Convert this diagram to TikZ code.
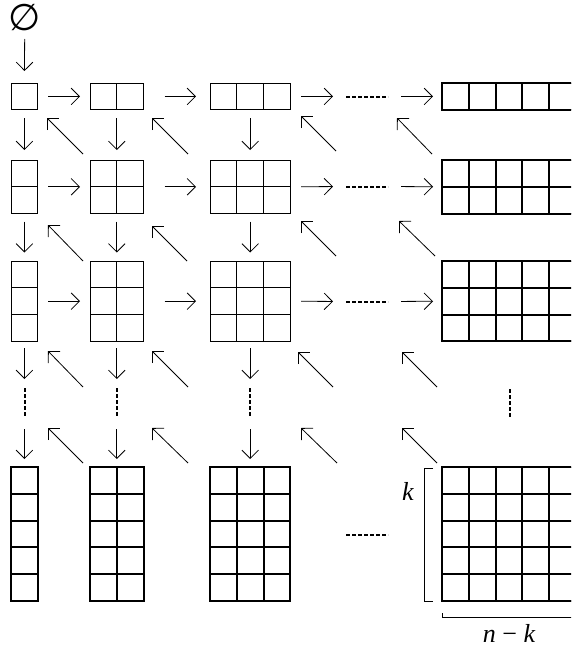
\documentclass[tikz,border=0pt]{standalone}
\usepackage{fontspec}
\newfontfamily\dejavu{DejaVu Sans}
\newfontfamily\tms{Liberation Serif}
\usetikzlibrary{arrows.meta}
\tikzset{
  cellbox/.style n args={3}{draw, rectangle, line width=#3, inner sep=0pt, outer sep=0pt,
    anchor=north west, minimum width=#1*26.8pt, minimum height=#2*26.8pt,
    path picture={
      \foreach \i in {0,...,#1}{\draw[line width=#3]
        ([xshift=\i*26.8pt]path picture bounding box.north west) --
        ([xshift=\i*26.8pt]path picture bounding box.south west);}
      \foreach \j in {0,...,#2}{\draw[line width=#3]
        ([yshift=-\j*26.8pt]path picture bounding box.north west) --
        ([yshift=-\j*26.8pt]path picture bounding box.north east);}
    }},
  thinbox/.style n args={2}{cellbox={#1}{#2}{0.9pt}},
  thickbox/.style n args={2}{cellbox={#1}{#2}{2.1pt}},
  arr/.style={line width=0.8pt, -{Straight Barb[length=8.3pt,width=16.6pt,line width=0.8pt]}},
  hdots/.style={line width=2pt, dash pattern=on 4pt off 2pt},
  vdots/.style={line width=2pt, dash pattern=on 4pt off 2pt},
  brk/.style={line width=0.8pt},
  lbl/.style={inner sep=0pt, font=\tms\fontsize{26}{30}\selectfont}
}
\begin{document}
\begin{tikzpicture}[x=1pt,y=-1pt]
\useasboundingbox (0,0) rectangle (571,648);
\clip (0,0) rectangle (571,648);
% empty set
\node[inner sep=0pt, font=\dejavu\fontsize{37}{37}\selectfont] (empty) at (24.8,18) {∅};
% boxes
\node[thinbox={1}{1}] (b11) at (11,83) {};
\node[thinbox={2}{1}] (b12) at (90,83) {};
\node[thinbox={3}{1}] (b13) at (210,83) {};
\node[thickbox={5}{1}] (b14) at (442,83) {};
\node[thinbox={1}{2}] (b21) at (11,160) {};
\node[thinbox={2}{2}] (b22) at (90,160) {};
\node[thinbox={3}{2}] (b23) at (210,160) {};
\node[thickbox={5}{2}] (b24) at (442,160) {};
\node[thinbox={1}{3}] (b31) at (11,261) {};
\node[thinbox={2}{3}] (b32) at (90,261) {};
\node[thinbox={3}{3}] (b33) at (210,261) {};
\node[thickbox={5}{3}] (b34) at (442,261) {};
\node[thickbox={1}{5}] (b51) at (11,467) {};
\node[thickbox={2}{5}] (b52) at (90,467) {};
\node[thickbox={3}{5}] (b53) at (210,467) {};
\node[thickbox={5}{5}] (b54) at (442,467) {};
% empty set arrow
\draw[arr, shorten <=21pt, shorten >=12pt] (empty.center) -- (b11.north);
% horizontal arrows and dots
\foreach \r/\y in {1/96.5, 2/186.5, 3/301.5}{
  \coordinate (hd\r a) at (346,\y);
  \coordinate (hd\r b) at (388,\y);
  \draw[arr, shorten <=10.2pt, shorten >=10pt] (b\r1.east) -- (b\r2.west);
  \draw[arr, shorten <=21pt, shorten >=14pt] (b\r2.east) -- (b\r3.west);
  \draw[arr, shorten <=10.6pt, shorten >=13pt] (b\r3.east) -- (hd\r a);
  \draw[hdots] (hd\r a) -- (hd\r b);
  \draw[arr, shorten <=13pt, shorten >=9pt] (hd\r b) -- (b\r4.west);
}
\coordinate (hd5a) at (346,534.5);
\coordinate (hd5b) at (388,534.5);
\draw[hdots] (hd5a) -- (hd5b);
% vertical arrows
\foreach \c/\x in {1/24.5,2/117,3/250}{
  \draw[arr, shorten <=8.2pt, shorten >=10pt] (b1\c.south) -- (b2\c.north);
  \draw[arr, shorten <=8pt, shorten >=8.5pt] (b2\c.south) -- (b3\c.north);
  \coordinate (vd\c a) at (\x,388);
  \coordinate (vd\c b) at (\x,416);
  \draw[arr, shorten <=6.6pt, shorten >=9pt] (b3\c.south) -- (b3\c.south |- vd\c a);
  \draw[vdots] (vd\c a) -- (vd\c b);
  \draw[arr, shorten <=13pt, shorten >=8pt] (b5\c.north |- vd\c b) -- (b5\c.north);
}
\coordinate (vd4a) at (510,389);
\coordinate (vd4b) at (510,417);
\draw[vdots] (vd4a) -- (vd4b);
% diagonal arrows, band 1
\draw[arr] ([shift={(-7,-6)}]b22.north west) -- ([shift={(9.2,8.2)}]b11.south east);
\draw[arr] ([shift={(-22,-6)}]b23.north west) -- ([shift={(8.4,8.2)}]b12.south east);
\draw[arr] ([shift={(45.6,41.2)}]b13.south east) -- ([shift={(10.6,6.2)}]b13.south east);
\draw[arr] ([shift={(-10,-6)}]b24.north west) -- ([shift={(-45,-42)}]b24.north west);
% band 2
\draw[arr] ([shift={(-7,0)}]b32.north west) -- ([shift={(10.2,11.4)}]b21.south east);
\draw[arr] ([shift={(-23,0)}]b33.north west) -- ([shift={(8.4,12.4)}]b22.south east);
\draw[arr] ([shift={(45.6,42.4)}]b23.south east) -- ([shift={(10.6,7.4)}]b23.south east);
\draw[arr] ([shift={(-7,-5)}]b34.north west) -- ([shift={(-43,-40)}]b34.north west);
% band 3
\draw[arr] ([shift={(45.2,45.6)}]b31.south east) -- ([shift={(10.2,9.6)}]b31.south east);
\draw[arr] ([shift={(44.4,45.6)}]b32.south east) -- ([shift={(8.4,9.6)}]b32.south east);
\draw[arr] ([shift={(42.6,45.6)}]b33.south east) -- ([shift={(7.6,10.6)}]b33.south east);
\draw[arr] ([shift={(-5,45.6)}]b34.south west) -- ([shift={(-40,10.6)}]b34.south west);
% band 4
\draw[arr] ([shift={(-7,-4)}]b52.north west) -- ([shift={(-42,-39)}]b52.north west);
\draw[arr] ([shift={(-22,-4)}]b53.north west) -- ([shift={(-58,-39)}]b53.north west);
\draw[arr] ([shift={(-105,-4)}]b54.north west) -- ([shift={(-141,-39)}]b54.north west);
\draw[arr] ([shift={(-5,-4)}]b54.north west) -- ([shift={(-40,-39)}]b54.north west);
% brackets
\draw[brk] ([shift={(-9,1)}]b54.north west) -- ([shift={(-18,1)}]b54.north west)
  -- ([shift={(-18,0)}]b54.south west) -- ([shift={(-9,0)}]b54.south west);
\draw[brk] ([shift={(0,12)}]b54.south west) -- ([shift={(0,16)}]b54.south west)
  -- ([shift={(0,16)}]b54.south east);
\node[lbl] (klab) at (408,491) {\itshape k};
\node[lbl] (nklab) at (509,633) {\itshape n\hspace{6.5pt}\upshape −\hspace{6.5pt}\itshape k};
\end{tikzpicture}
\end{document}
